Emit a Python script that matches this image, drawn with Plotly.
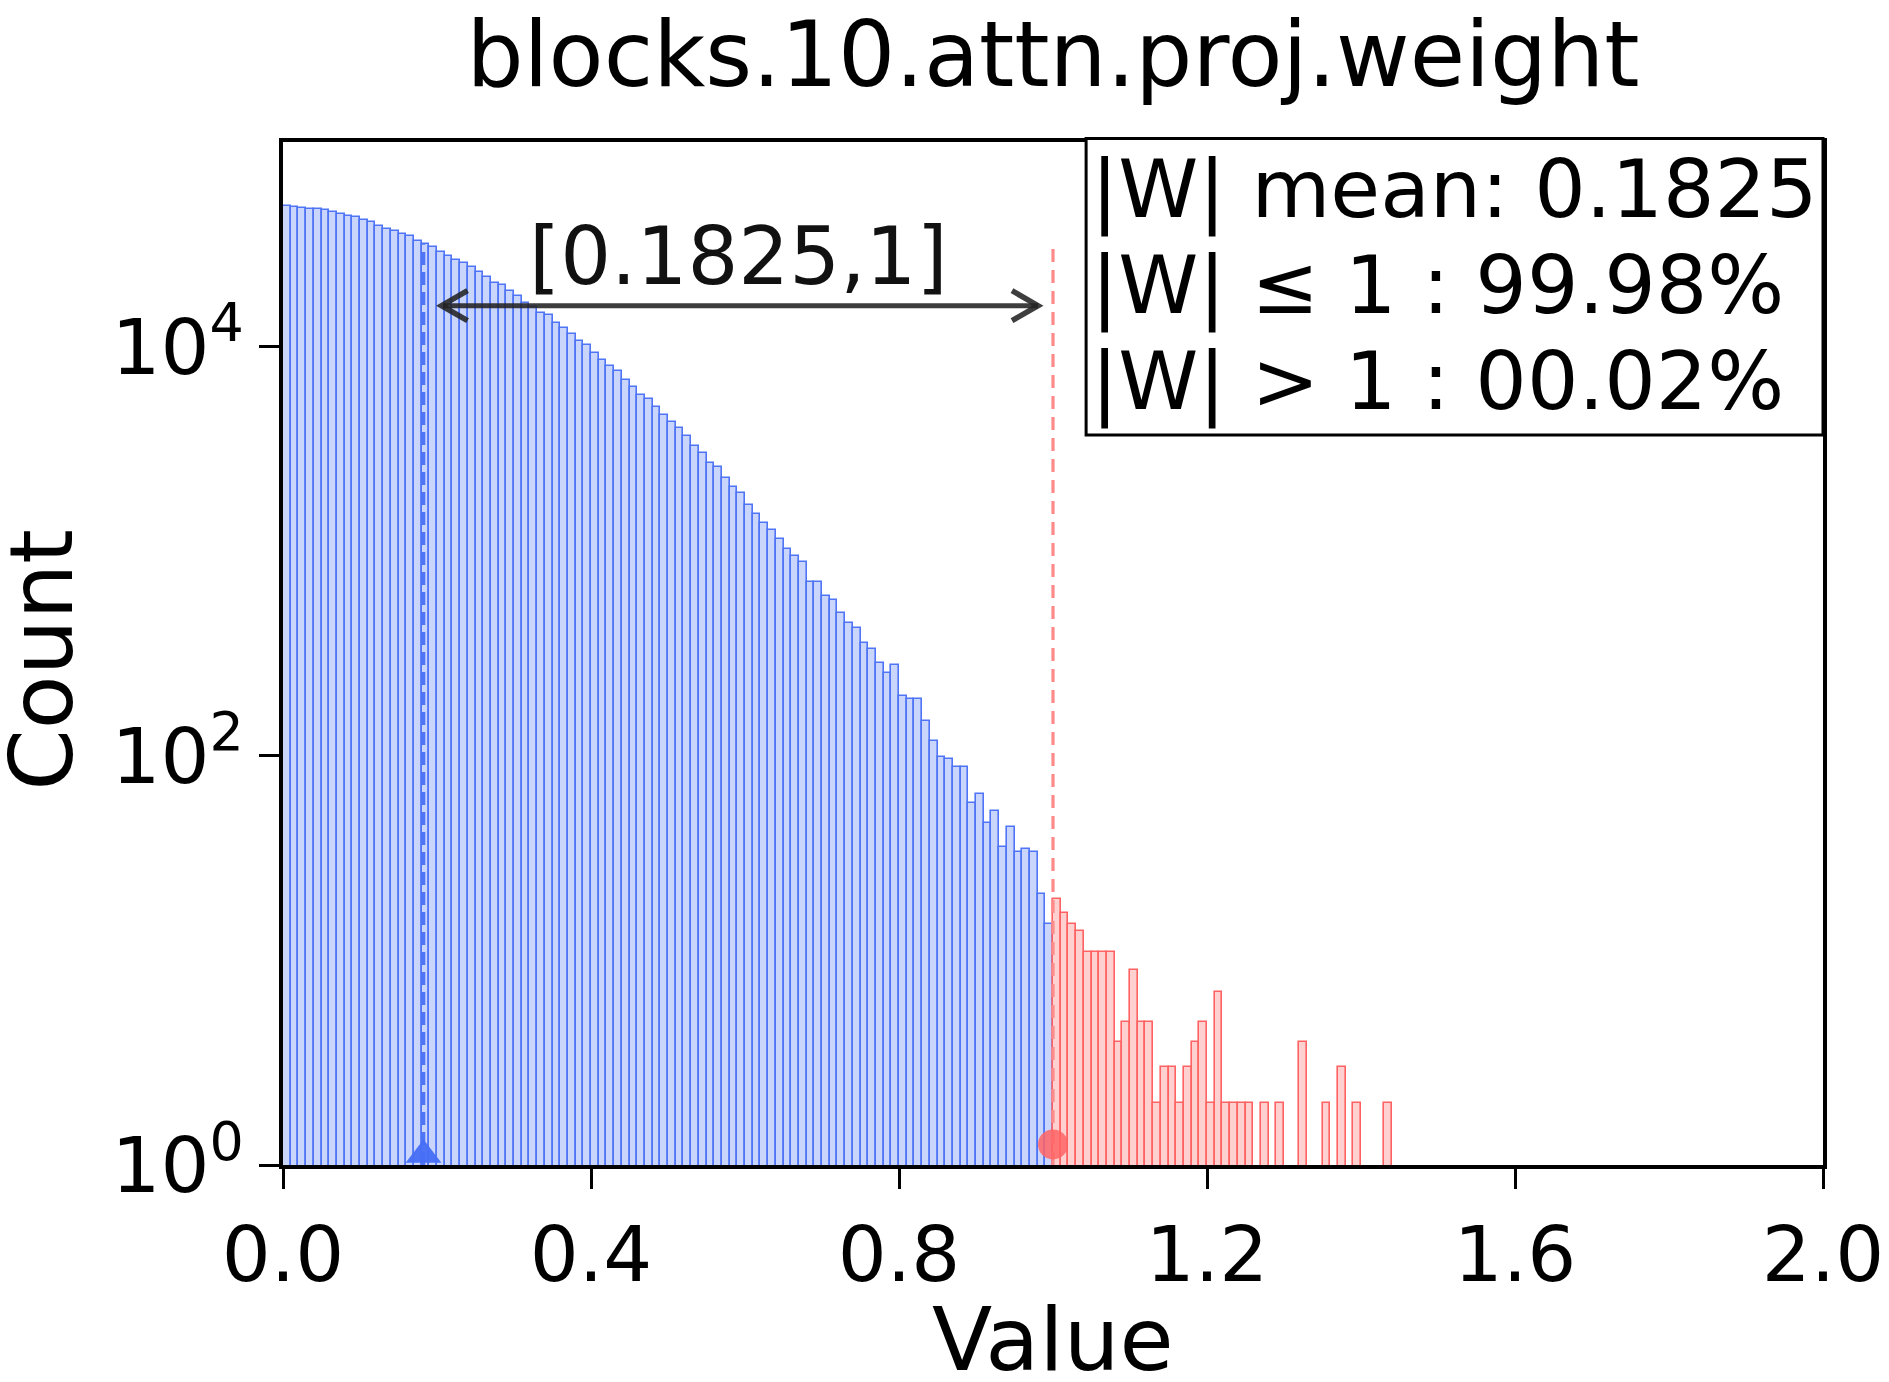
import plotly.graph_objects as go

# ---------------- data ----------------
bin_width = 0.01
blue_counts = [
    48400, 48300, 47500, 47000, 47000, 46500, 45300, 44400, 43600, 42800,
    41600, 40600, 39000, 37500, 36900, 35500, 34600, 33000, 31700, 30800,
    28900, 27800, 26500, 25600, 24400, 23200, 22000, 20400, 20100, 18600,
    17700, 16400, 15700, 14600, 14300, 13000, 12300, 11500, 10600, 10200,
    9350, 8600, 8000, 7640, 6900, 6330, 5810, 5560, 5060, 4640,
    4270, 4010, 3675, 3280, 3030, 2700, 2575, 2280, 2060, 1930,
    1680, 1524, 1380, 1275, 1150, 1028, 946, 885, 706, 706,
    601, 579, 498, 447, 421, 357, 334, 285, 255, 279,
    195, 190, 190, 148, 118, 99, 96, 88, 88, 59,
    65, 47, 54, 36, 45, 34, 35, 34, 21, 15,
]
red_counts = [
    20, 17, 15, 14, 11, 11, 11, 11, 4, 5,
    9, 5, 5, 2, 3, 3, 2, 3, 4, 5,
    2, 7, 2, 2, 2, 2, 0, 2, 0, 2,
    0, 0, 4, 0, 0, 2, 0, 3, 0, 2,
    0, 0, 0, 2,
]
mean_abs = 0.1825
threshold = 1.0
pct_le = "99.98%"
pct_gt = "00.02%"
title_text = "blocks.10.attn.proj.weight"
x_ticks = [0.0, 0.4, 0.8, 1.2, 1.6, 2.0]
y_ticks = [1, 100, 10000]
y_ticktext = ["10<sup>0</sup>", "10<sup>2</sup>", "10<sup>4</sup>"]
line_top = 10 ** 4.5
arrow_y_log = 4.2

blue_x = [(i + 0.5) * bin_width for i in range(len(blue_counts))]
red_x = [threshold + (i + 0.5) * bin_width for i in range(len(red_counts))]
red_y = [c if c > 0 else None for c in red_counts]

FONT = "DejaVu Sans"
BLUE_FILL = "#c9d5fb"
BLUE_EDGE = "#4f75f6"
RED_FILL = "#ffd0d0"
RED_EDGE = "#ff6262"

fig = go.Figure()
fig.add_trace(go.Bar(x=blue_x, y=blue_counts, width=bin_width,
                     marker=dict(color=BLUE_FILL, line=dict(color=BLUE_EDGE, width=1.6)),
                     showlegend=False))
fig.add_trace(go.Bar(x=red_x, y=red_y, width=bin_width,
                     marker=dict(color=RED_FILL, line=dict(color=RED_EDGE, width=1.6)),
                     showlegend=False))
# dashed reference lines
fig.add_trace(go.Scatter(x=[mean_abs, mean_abs], y=[1, line_top], mode="lines",
                         line=dict(color=BLUE_EDGE, width=3.5, dash="13px,7px"), showlegend=False))
fig.add_trace(go.Scatter(x=[threshold, threshold], y=[1, line_top], mode="lines",
                         line=dict(color="#ff8a8a", width=3.2, dash="13px,8px"), showlegend=False))
# markers on the baseline
fig.add_trace(go.Scatter(x=[mean_abs], y=[1.12], mode="markers", cliponaxis=False,
                         marker=dict(symbol="triangle-up", size=31, color="rgba(70,110,245,0.95)"),
                         showlegend=False))
fig.add_trace(go.Scatter(x=[threshold], y=[1.26], mode="markers", cliponaxis=False,
                         marker=dict(symbol="circle", size=30, color="rgba(255,100,100,0.85)"),
                         showlegend=False))

ARROW_COLOR = "rgba(35,35,35,0.88)"
annotations = [
    dict(x=threshold, y=arrow_y_log, ax=mean_abs, ay=arrow_y_log, xref="x", yref="y",
         axref="x", ayref="y", text="", showarrow=True, arrowhead=0, arrowwidth=5,
         arrowcolor=ARROW_COLOR, standoff=15, startstandoff=18),
    dict(x=(mean_abs + threshold) / 2, y=4.44, xref="x", yref="y", text=f"[{mean_abs},{int(threshold)}]",
         showarrow=False, font=dict(family=FONT, size=80, color="#111111"), yanchor="middle"),
    dict(x=0.5, y=-0.171, xref="paper", yref="paper", text="Value", showarrow=False,
         font=dict(family=FONT, size=88, color="black"), yanchor="middle"),
    dict(x=-0.1565, y=0.494, xref="paper", yref="paper", text="Count", showarrow=False,
         textangle=-90, font=dict(family=FONT, size=88, color="black"), xanchor="center", yanchor="middle"),
]
legend_lines = [f"|W| mean: {mean_abs}", f"|W| \u2264 1 : {pct_le}", f"|W| > 1 : {pct_gt}"]
legend_y = [0.954, 0.8595, 0.7654]
for txt, yy in zip(legend_lines, legend_y):
    annotations.append(dict(x=0.5235, y=yy, xref="paper", yref="paper", text=txt, showarrow=False,
                            xanchor="left", yanchor="middle",
                            font=dict(family=FONT, size=81, color="black")))

shapes = [
    dict(type="rect", xref="paper", yref="paper", x0=0.5215, x1=1.0, y0=0.7136, y1=1.0034,
         line=dict(color="black", width=3), fillcolor="white", layer="above"),
]
# chevron arrow heads
for anchor, sign, off in [(mean_abs, 1, 18), (threshold, -1, 15)]:
    path = (f"M {sign*(off+26)},15 L {sign*off},0 L {sign*(off+26)},-15")
    shapes.append(dict(type="path", xref="x", yref="y", xsizemode="pixel", ysizemode="pixel",
                       xanchor=anchor, yanchor=10 ** arrow_y_log, path=path,
                       line=dict(color=ARROW_COLOR, width=5.5), layer="above"))

fig.update_layout(
    width=1889, height=1382,
    margin=dict(l=283, r=66, t=142, b=217, autoexpand=False),
    paper_bgcolor="white", plot_bgcolor="white",
    bargap=0, barmode="overlay",
    title=dict(text=title_text, x=0.5, xref="paper", xanchor="center",
               y=1 - 54 / 1382, yref="container", yanchor="middle",
               font=dict(family=FONT, size=90, color="black")),
    annotations=annotations, shapes=shapes,
    xaxis=dict(range=[0, 2], tickvals=x_ticks, tickformat=".1f", showgrid=False, zeroline=False,
               automargin=False, ticklabeloverflow="allow",
               ticks="outside", ticklen=20, tickwidth=3, tickcolor="black",
               showline=True, linecolor="black", linewidth=3.5, mirror=True,
               tickfont=dict(family=FONT, size=77, color="black")),
    yaxis=dict(type="log", range=[0, 5], tickvals=y_ticks, ticktext=y_ticktext, showgrid=False,
               zeroline=False, automargin=False, ticklabeloverflow="allow",
               ticks="outside", ticklen=20, tickwidth=3, tickcolor="black",
               showline=True, linecolor="black", linewidth=3.5, mirror=True,
               tickfont=dict(family=FONT, size=77, color="black")),
)

fig.write_html("out.html")
